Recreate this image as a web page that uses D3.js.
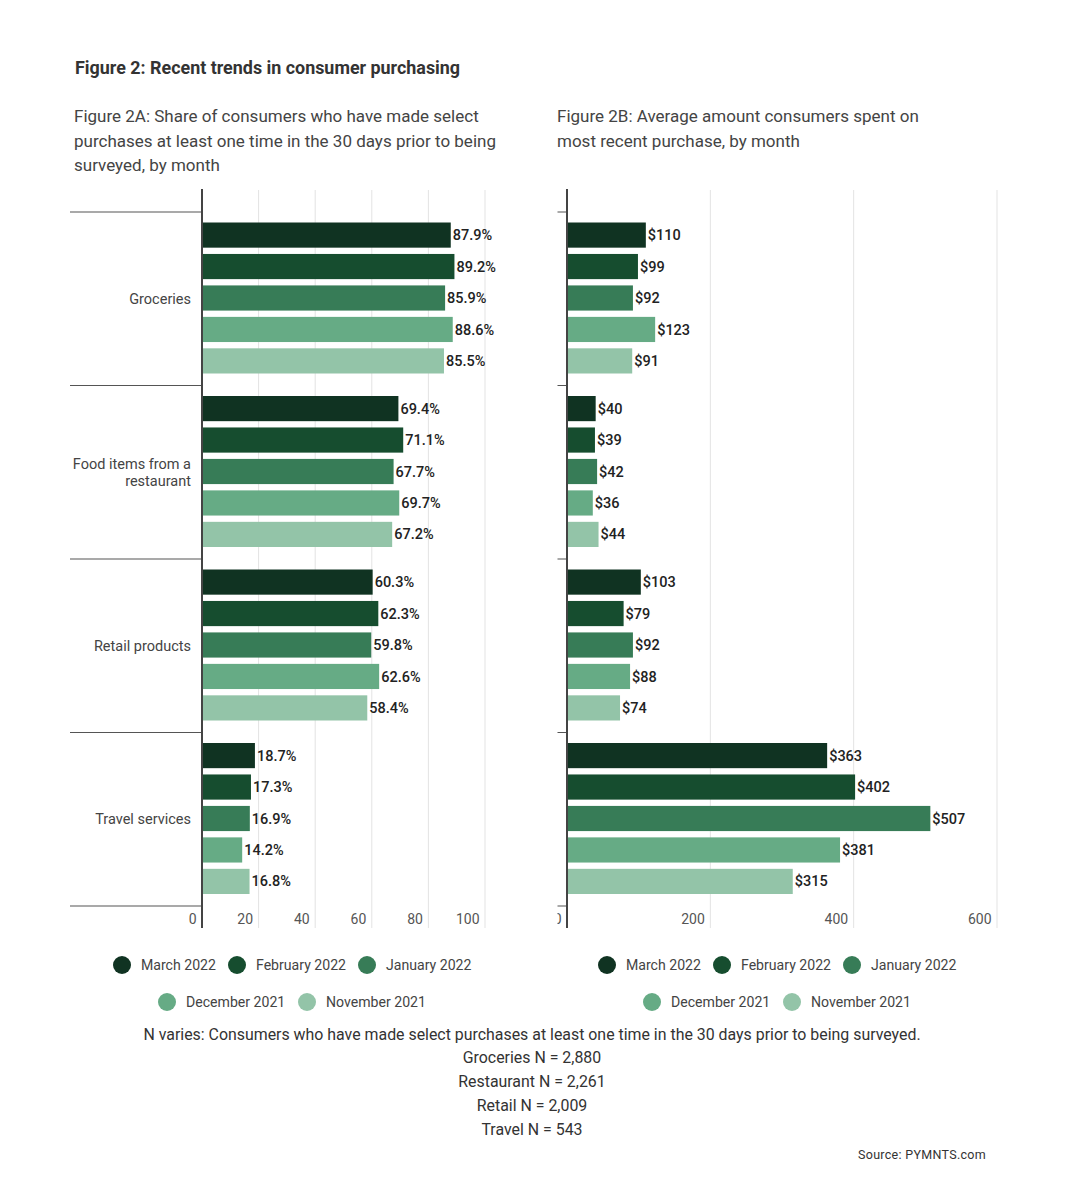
<html>
  <head>
    <script src="https://d3js.org/d3.v7.min.js"></script>
    <style>
      body { margin: 0; background: #fff; }
      text { font-family: Roboto, "Noto Sans", sans-serif; }
    </style>
  </head>
  <body>
    <script type="text/javascript">
      var categories = ["Groceries", "Food items from a restaurant", "Retail products", "Travel services"];
      var catLines = [["Groceries"], ["Food items from a", "restaurant"], ["Retail products"], ["Travel services"]];
      var months = ["March 2022", "February 2022", "January 2022", "December 2021", "November 2021"];
      var colors = ["#103322", "#164d2f", "#377c57", "#66ab85", "#93c4a8"];
      // share of consumers (%), rows = category, cols = month
      var shareValues = [
        [87.9, 89.2, 85.9, 88.6, 85.5],
        [69.4, 71.1, 67.7, 69.7, 67.2],
        [60.3, 62.3, 59.8, 62.6, 58.4],
        [18.7, 17.3, 16.9, 14.2, 16.8]
      ];
      // average spend ($)
      var spendValues = [
        [110, 99, 92, 123, 91],
        [40, 39, 42, 36, 44],
        [103, 79, 92, 88, 74],
        [363, 402, 507, 381, 315]
      ];
      var shareTicks = [0, 20, 40, 60, 80, 100];
      var spendTicks = [0, 200, 400, 600];
      var footNotes = [
        "N varies: Consumers who have made select purchases at least one time in the 30 days prior to being surveyed.",
        "Groceries N = 2,880",
        "Restaurant N = 2,261",
        "Retail N = 2,009",
        "Travel N = 543"
      ];

      var w = 1082, h = 1187;
      var svg = d3.select("body").append("svg").attr("width", w).attr("height", h);

      var yTop = 212, yBot = 906;
      var cat = d3.scaleBand().domain(categories).range([yTop, yBot]);
      var inner = d3.scaleBand().domain(months).range([10.5, 161.5]).paddingInner(0.2);

      // titles
      svg.append("text").attr("x", 75).attr("y", 74)
        .attr("font-size", 17.9).attr("font-weight", 700).attr("fill", "#333")
        .text("Figure 2: Recent trends in consumer purchasing");

      var subA = ["Figure 2A: Share of consumers who have made select",
                  "purchases at least one time in the 30 days prior to being",
                  "surveyed, by month"];
      var subB = ["Figure 2B: Average amount consumers spent on",
                  "most recent purchase, by month"];
      svg.append("g").selectAll("text").data(subA).enter().append("text")
        .attr("x", 74).attr("y", (d, i) => 122 + i * 24.5)
        .attr("font-size", 17).attr("fill", "#444").text(d => d);
      svg.append("g").selectAll("text").data(subB).enter().append("text")
        .attr("x", 557).attr("y", (d, i) => 122 + i * 24.5)
        .attr("font-size", 17).attr("fill", "#444").text(d => d);

      function drawPanel(x0, x1, domainMax, ticks, values, fmt, sepLeft, clipLeft) {
        var x = d3.scaleLinear().domain([0, domainMax]).range([x0, x1]);
        var g = svg.append("g");
        if (clipLeft) {
          var id = "clip" + x0;
          svg.append("clipPath").attr("id", id).append("rect")
            .attr("x", clipLeft).attr("y", 0).attr("width", w).attr("height", h);
          g.attr("clip-path", "url(#" + id + ")");
        }

        // gridlines
        g.append("g").selectAll("line").data(ticks.slice(1)).enter().append("line")
          .attr("x1", d => x(d)).attr("x2", d => x(d))
          .attr("y1", 190).attr("y2", 928)
          .attr("stroke", "#e3e3e3").attr("stroke-width", 1);

        // category separators
        var seps = categories.map(c => cat(c)).concat([yBot]);
        g.append("g").selectAll("line").data(seps).enter().append("line")
          .attr("x1", sepLeft).attr("x2", x0)
          .attr("y1", d => d).attr("y2", d => d)
          .attr("stroke", "#555").attr("stroke-width", 1.2);

        // bars
        categories.forEach(function(c, ci) {
          var cg = g.append("g").attr("transform", "translate(0," + cat(c) + ")");
          cg.selectAll("rect").data(values[ci]).enter().append("rect")
            .attr("x", x(0))
            .attr("y", (d, i) => inner(months[i]))
            .attr("width", d => x(d) - x(0))
            .attr("height", inner.bandwidth())
            .attr("fill", (d, i) => colors[i]);
          cg.selectAll("text").data(values[ci]).enter().append("text")
            .attr("x", d => x(d) + 2)
            .attr("y", (d, i) => inner(months[i]) + inner.bandwidth() / 2)
            .attr("dy", "0.35em")
            .attr("font-size", 14.5).attr("font-weight", 500).attr("fill", "#222")
            .text(fmt);
        });

        // x axis labels
        var ax = g.append("g").attr("transform", "translate(0,919)")
          .call(d3.axisBottom(x).tickValues(ticks).tickSize(0).tickFormat(d3.format("d")));
        ax.select(".domain").remove();
        ax.selectAll("text")
          .attr("text-anchor", "end").attr("dx", -6).attr("y", 0).attr("dy", "0.35em")
          .attr("font-size", 14).attr("fill", "#555")
          .style("font-family", "Roboto, sans-serif");

        // vertical axis line
        g.append("line").attr("x1", x0).attr("x2", x0).attr("y1", 189).attr("y2", 928)
          .attr("stroke", "#444").attr("stroke-width", 2);
        return x;
      }

      drawPanel(202, 485, 100, shareTicks, shareValues, d => d3.format(".1f")(d) + "%", 70, null);
      drawPanel(567, 997, 600, spendTicks, spendValues, d => "$" + d, 553, 557.5);

      // category labels (left panel)
      categories.forEach(function(c, ci) {
        var lines = catLines[ci];
        var mid = cat(c) + cat.bandwidth() / 2;
        svg.append("g").selectAll("text").data(lines).enter().append("text")
          .attr("x", 191).attr("text-anchor", "end")
          .attr("y", (d, i) => mid + (i - (lines.length - 1) / 2) * 17)
          .attr("dy", "0.35em")
          .attr("font-size", 14.5).attr("fill", "#444")
          .text(d => d);
      });

      // legends
      var legendPos = [[122, 965], [237, 965], [367, 965], [167, 1002], [307, 1002]];
      [0, 485].forEach(function(off) {
        var lg = svg.append("g").attr("transform", "translate(" + off + ",0)");
        var item = lg.selectAll("g").data(months).enter().append("g")
          .attr("transform", (d, i) => "translate(" + legendPos[i][0] + "," + legendPos[i][1] + ")");
        item.append("circle").attr("r", 9).attr("fill", (d, i) => colors[i]);
        item.append("text").attr("x", 19).attr("dy", "0.35em")
          .attr("font-size", 14.1).attr("fill", "#444").text(d => d);
      });

      // footnotes
      svg.append("g").selectAll("text").data(footNotes).enter().append("text")
        .attr("x", 532).attr("y", (d, i) => 1034 + i * 23.8)
        .attr("dy", "0.35em").attr("text-anchor", "middle")
        .attr("font-size", 15.9).attr("fill", "#333").text(d => d);

      svg.append("text").attr("x", 858).attr("y", 1155).attr("dy", "0.35em")
        .attr("font-size", 12.5).attr("letter-spacing", 0.3).attr("fill", "#333")
        .text("Source: PYMNTS.com");
    </script>
  </body>
</html>
